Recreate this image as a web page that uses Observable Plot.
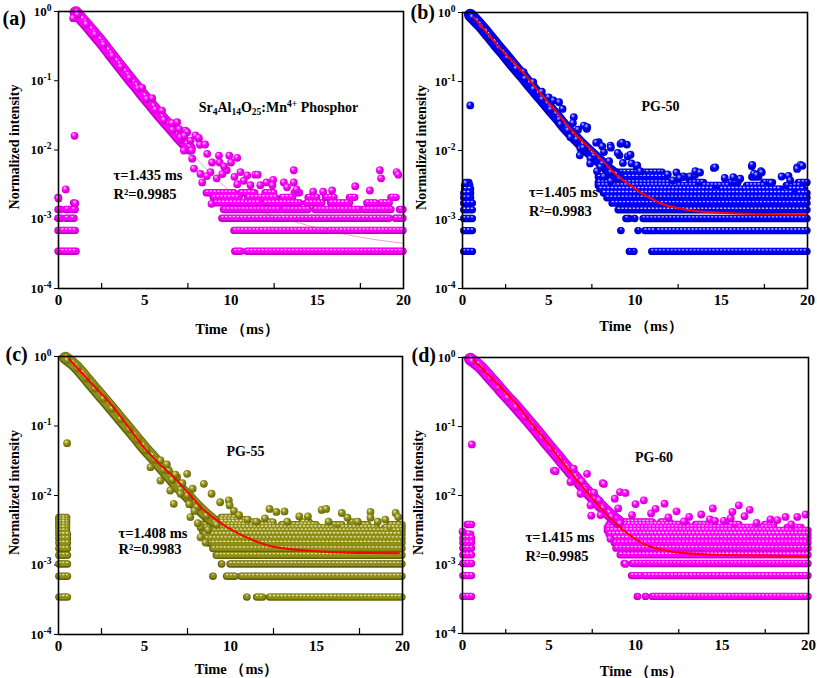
<!DOCTYPE html>
<html><head><meta charset="utf-8">
<script src="https://cdn.jsdelivr.net/npm/d3@7"></script>
<script src="https://cdn.jsdelivr.net/npm/@observablehq/plot@0.6"></script>
<style>
body{margin:0;background:#fff;}
#wrap{position:relative;width:817px;height:678px;overflow:hidden;background:#fff;}
.panel{position:absolute;}
</style></head><body><div id="wrap"></div>
<script>
// ---------- shared ----------
const COUNT_STEP = 0.000345;            // one photon count, normalized
const xTicks = [0, 5, 10, 15, 20];
const xMinorTicks = [2.5, 7.5, 12.5, 17.5];
const yTicks = [1e-4, 1e-3, 1e-2, 1e-1, 1];

// ---------- panel (a) Sr4Al14O25:Mn4+ ----------
const bandA = [[1.0,0.97],[1.5,0.70],[2.0,0.50],[2.5,0.355],[3.0,0.245],[3.5,0.17],[4.0,0.118],[4.5,0.083],[5.0,0.058],[5.5,0.041],[6.0,0.029],[6.5,0.021],[7.0,0.015],[7.6,0.0105]];
const scatterA = [[0.85,0.80],[0.93,0.016],[0.42,0.0027],[0.98,0.0017],[0.0,0.0020],
 [4.85,0.079],[5.43,0.056],[6.0,0.037],[6.59,0.0245],[7.36,0.019],[8.13,0.0145],[8.2,0.0119],[7.07,0.0153],
 [6.88,0.0252],[7.46,0.0181],[7.66,0.0137],[7.94,0.0162],[8.13,0.015],[7.27,0.0098],[7.75,0.0075],[7.85,0.0054],
 [8.62,0.0088],[9.3,0.0083],[9.9,0.0083],[10.0,0.0066],[9.34,0.0066],[8.81,0.0048],[8.33,0.0034],[8.23,0.0045],
 [9.17,0.0039],[9.75,0.0051],[10.55,0.0048],[10.94,0.0043],[11.4,0.0044],[11.55,0.0044],[10.74,0.0036],[10.36,0.0077],
 [13.64,0.0051],[12.06,0.0034],[12.44,0.0037],[13.06,0.0034],[13.64,0.0034],[14.76,0.0025],[15.34,0.0025],[15.86,0.0026],
 [17.2,0.0030],[18.05,0.0026],[18.63,0.0051],[18.7,0.0039],[19.6,0.0048],[19.7,0.0044],[8.87,0.00167],[10.36,0.0032],
 [11.13,0.0031],[11.7,0.0031],[12.4,0.0031],[13.25,0.0029],[13.8,0.0027],[7.0,0.0200],[7.3,0.0160],[8.5,0.0120],
 [8.9,0.0066],[9.6,0.0058],[8.6,0.0042],[9.5,0.0045],[10.2,0.0041]];
const rowsA = [
 [1,0.0,1.05],[1,10.25,10.6],[1,10.95,11.9],[1,12.05,20],
 [2,0.0,1.0],[2,10.2,15.5],[2,15.7,20],
 [3,0.0,0.2],[3,0.45,0.62],[3,0.78,0.93],[3,9.5,19.2],[3,19.55,20],
 [4,0.0,0.15],[4,0.45,0.65],[4,0.85,1.0],[4,9.6,12.9],[4,13.1,14.5],[4,14.9,17.5],[4,17.7,19.3],[4,19.8,20],
 [5,0.9,0.92],[5,9.1,11.7],[5,12.0,14.0],[5,14.4,15.3],[5,15.8,16.9],[5,17.9,18.4],[5,18.7,19.2],
 [6,0.0,0.02],[6,9.0,10.5],[6,11.0,12.6],[6,13.0,13.6],[6,14.5,15.0],[6,15.5,16.0],[6,16.9,17.2],[6,19.3,19.6],
 [7,8.6,10.2],[7,10.6,11.4],[7,12.0,12.5],[7,13.7,14.0]];
const fitA = [[1.0,0.95],[3,0.24],[5,0.06],[7,0.015],[8.5,0.0055],[10,0.0025],[11.5,0.0014],[13.5,0.00095],[15.6,0.00069],[17.5,0.00055],[20,0.00045]];

// ---------- panel (b) PG-50 ----------
const bandB = [[0.45,0.92],[1.0,0.66],[1.5,0.47],[2.0,0.33],[2.5,0.235],[3.0,0.165],[3.5,0.118],[4.0,0.083],[4.5,0.059],[5.0,0.042],[5.5,0.030],[6.0,0.021],[6.5,0.0155],[7.0,0.0115],[7.5,0.0088],[8.0,0.0068],[8.5,0.0052],[9.0,0.0042]];
const scatterB = [[0.45,0.045],[0.2,0.00336],
 [3.54,0.137],[4.1,0.098],[4.6,0.071],[5.0,0.059],[6.45,0.0304],[7.03,0.023],[7.9,0.0132],[8.58,0.0118],[8.2,0.0095],
 [5.68,0.024],[6.26,0.0156],[6.84,0.0106],[7.42,0.0076],[8.0,0.0058],
 [5.27,0.053],[5.6,0.05],[5.8,0.04],[6.4,0.025],[6.7,0.02],[7.2,0.0206],[7.23,0.0218],[7.75,0.013],[8.1,0.0115],[8.6,0.011],
 [9.1,0.0085],[9.53,0.0122],[9.16,0.0125],[9.26,0.013],[9.58,0.0082],[9.74,0.0087],[9.0,0.0092],[8.5,0.007],[9.3,0.0066],
 [9.8,0.0065],[10.1,0.0058],[10.13,0.0061],[10.3,0.005],[6.8,0.0085],[7.4,0.0065],[7.8,0.005],[8.2,0.0042],[8.6,0.0036],[7.0,0.011],
 [11.9,0.0045],[12.4,0.0048],[12.8,0.0042],[13.2,0.0042],[12.2,0.0037],[12.6,0.004],[13.48,0.0044],[13.5,0.005],[13.77,0.0048],
 [14.57,0.0056],[14.65,0.0057],[15.2,0.004],[15.7,0.0041],[16.1,0.0039],[16.77,0.0059],[16.8,0.0062],[16.9,0.0046],[17.06,0.0044],
 [17.3,0.005],[17.35,0.0048],[17.9,0.0034],[18.5,0.0042],[18.9,0.0043],[19.0,0.0037],[19.4,0.0057],[19.6,0.0062],[19.7,0.006],[19.4,0.0054]];
const rowsB = [
 [1,0.1,0.6],[1,9.7,9.72],[1,9.95,9.97],[1,11.0,11.8],[1,11.9,20],
 [2,0.1,0.6],[2,9.2,9.22],[2,10.2,10.22],[2,10.6,11.2],[2,11.35,20],
 [3,0.1,0.6],[3,9.5,9.7],[3,10.0,10.02],[3,10.5,20],
 [4,0.1,0.6],[4,9.05,20],
 [5,0.1,0.6],[5,8.7,20],
 [6,0.1,0.5],[6,8.4,20],
 [7,0.1,0.5],[7,8.2,19.2],[7,19.5,20],
 [8,0.15,0.5],[8,8.0,14.5],[8,15.0,18.5],[8,19.0,19.8],
 [9,0.15,0.45],[9,7.9,13.5],[9,14.0,15.5],[9,16.5,17.5],[9,18.8,19.6],
 [10,0.2,0.4],[10,7.9,12.5],[10,13.2,14.0],[10,15.3,16.0],[10,17.5,18.0],[10,19.5,20],
 [12,7.9,11.8],[12,12.6,13.0],[12,16.8,17.2],
 [14,8.5,11.6]];
const fitB = [[0.64,0.855],[1.5,0.48],[2.3,0.28],[3.25,0.16],[4.3,0.078],[5.37,0.038],[6.3,0.02],[7.3,0.0112],[8.1,0.0072],[8.85,0.0046],[10,0.0028],[11.55,0.00169],[13.3,0.00135],[15.2,0.00124],[17.5,0.0012],[19.96,0.00118]];

// ---------- panel (c) PG-55 ----------
const bandC = [[0.4,0.95],[1.0,0.72],[1.5,0.52],[2.0,0.37],[2.5,0.265],[3.0,0.19],[3.5,0.135],[4.0,0.096],[4.5,0.068],[5.0,0.048],[5.5,0.035],[6.0,0.025],[6.5,0.018],[7.0,0.013],[7.5,0.0098],[8.0,0.0072],[8.5,0.0055],[9.0,0.0043]];
const scatterC = [[0.5,0.0566],
 [5.93,0.0319],[6.42,0.0229],[6.9,0.0183],[5.35,0.0256],[5.93,0.0164],[6.5,0.0118],[6.7,0.0076],
 [6.3,0.028],[6.8,0.02],[7.2,0.015],[7.48,0.0205],[7.5,0.01],[7.8,0.0125],[8.45,0.0147],[8.9,0.0106],[7.1,0.0106],[8.06,0.0068],
 [7.67,0.0049],[8.26,0.0035],[9.4,0.008],[9.9,0.0085],[9.95,0.0072],[8.26,0.0025],[8.55,0.0021],[7.9,0.006],[7.6,0.0075],[8.1,0.004],
 [8.7,0.0032],[9.2,0.0038],[10.2,0.006],[10.5,0.0052],[11.0,0.0045],[11.5,0.0042],[12.0,0.0047],
 [12.27,0.0064],[12.67,0.0058],[13.14,0.0059],[13.3,0.0042],[14.0,0.005],[14.5,0.005],[15.3,0.0062],[15.56,0.0064],[15.7,0.0042],
 [16.47,0.0056],[16.8,0.0048],[17.4,0.0042],[18.14,0.0058],[18.14,0.0048],[18.56,0.0042],[19.0,0.0045],[19.6,0.0056],[19.75,0.0049]];
const rowsC = [
 [1,0.05,0.55],[1,10.97,10.99],[1,11.55,11.9],[1,12.3,20],
 [2,0.05,0.55],[2,9.0,9.02],[2,9.8,10.3],[2,10.65,11.45],[2,11.55,20],
 [3,0.05,0.55],[3,9.5,9.52],[3,10.0,20],
 [4,0.05,0.55],[4,9.2,20],
 [5,0.05,0.55],[5,9.0,20],
 [6,0.05,0.55],[6,8.75,20],
 [7,0.05,0.55],[7,8.6,20],
 [8,0.05,0.55],[8,8.5,20],
 [9,0.05,0.5],[9,8.4,19.2],[9,19.5,20],
 [10,0.05,0.5],[10,8.3,16.0],[10,16.5,18.5],[10,19.0,20],
 [11,0.05,0.5],[11,8.3,12.5],[11,13.0,15.0],[11,15.8,16.5],[11,17.5,18.0],[11,19.3,20],
 [12,0.05,0.5],[12,8.6,11.6],[12,12.2,12.5],[12,14.2,14.6],[12,17.0,17.3],
 [13,0.05,0.5],[13,9.0,11.0],
 [14,0.05,0.5],[14,9.5,10.5]];
const fitC = [[0.6,0.93],[1.8,0.44],[3.02,0.21],[4.0,0.102],[4.96,0.0496],[5.9,0.028],[6.9,0.0164],[7.6,0.0105],[8.26,0.0068],[9.0,0.0048],[9.8,0.0035],[10.5,0.0028],[11.35,0.00225],[12.3,0.00188],[13.3,0.00171],[14.6,0.0016],[16,0.00153],[18,0.00149],[19.8,0.00148]];

// ---------- panel (d) PG-60 ----------
const bandD = [[0.45,0.95],[1.0,0.74],[1.5,0.54],[2.0,0.39],[2.5,0.28],[3.0,0.205],[3.5,0.147],[4.0,0.105],[4.5,0.074],[5.0,0.052],[5.5,0.037],[6.0,0.026],[6.5,0.0185],[7.0,0.013],[7.5,0.0095],[8.0,0.007],[8.5,0.0053],[9.0,0.0042]];
const scatterD = [[0.54,0.055],[0.0,0.003],
 [5.66,0.034],[6.43,0.0244],[7.2,0.0206],[8.1,0.0151],[9.1,0.0112],[5.28,0.023],[6.24,0.0157],[6.82,0.0106],[7.4,0.0072],[7.98,0.0052],
 [5.38,0.0225],[6.9,0.016],[7.44,0.0051],[7.6,0.011],[7.9,0.0085],[8.17,0.0147],[8.55,0.00236],[8.8,0.009],[9.0,0.0065],[9.42,0.0109],
 [9.42,0.00102],[9.8,0.0052],[10.0,0.0075],[10.48,0.0085],[10.9,0.0055],[11.16,0.0064],[11.68,0.0076],[11.9,0.0048],[12.37,0.0059],
 [12.8,0.0042],[13.1,0.0049],[13.8,0.0053],[14.3,0.0045],[14.47,0.0065],[14.6,0.0043],[15.1,0.0043],[15.5,0.0047],[15.6,0.0058],
 [15.97,0.0072],[16.3,0.005],[16.6,0.0062],[17.0,0.004],[17.8,0.0045],[18.2,0.0044],[18.67,0.0049],[19.0,0.0038],[19.35,0.0049],[19.83,0.0053]];
const rowsD = [
 [1,0.05,0.55],[1,10.13,10.15],[1,10.6,10.62],[1,11.0,20],
 [2,0.05,0.55],[2,9.8,10.3],[2,10.55,20],
 [3,0.05,0.55],[3,9.37,9.39],[3,9.84,20],
 [4,0.05,0.55],[4,9.14,20],
 [5,0.05,0.55],[5,8.9,20],
 [6,0.05,0.55],[6,8.8,20],
 [7,0.05,0.55],[7,8.6,20],
 [8,0.1,0.5],[8,8.5,20],
 [9,8.4,19.0],[9,19.3,20],
 [10,8.4,15.5],[10,16.0,18.0],[10,18.8,19.6],
 [11,0.3,0.55],[11,8.5,13.0],[11,13.5,14.5],[11,15.5,16.0],[11,17.5,18.0],
 [12,8.7,11.0],[12,11.5,12.0]];
const fitD = [[0.64,0.92],[1.8,0.47],[3.03,0.223],[4.0,0.11],[5.0,0.055],[5.66,0.033],[6.43,0.019],[7.4,0.0098],[8.36,0.0052],[9.32,0.0031],[10.29,0.0021],[11.2,0.00172],[12.2,0.00152],[14.1,0.0014],[17,0.00135],[19.9,0.00132]];

// ---------- texts ----------
const panelLetters = ["(a)", "(b)", "(c)", "(d)"];
const tauTexts = ["τ=1.435 ms", "τ=1.405 ms", "τ=1.408 ms", "τ=1.415 ms"];
const r2Texts = ["R²=0.9985", "R²=0.9983", "R²=0.9983", "R²=0.9985"];
const sampleNames = ["Sr4Al14O25:Mn4+ Phosphor", "PG-50", "PG-55", "PG-60"];
const xLabel = "Time （ms）";
const yLabel = "Normalized intensity";

const MAG = {color:"#ff00ff", dark:"#c000c0", hi:"#ffd0ff"};
const BLU = {color:"#0000ff", dark:"#0000b0", hi:"#c8c8ff"};
const OLV = {color:"#8f8f18", dark:"#62620a", hi:"#e8e8a8"};

const panels = [
 {key:"a", left:0, top:0, W:408, H:340, mL:58, mT:11, mR:5, mB:52, band:bandA, scatter:scatterA, rows:rowsA, fit:fitA, fitFaint:true, pal:MAG,
  letter:{dx:-56, dy:13}, xlabDy:41, ylabDx:-44, tx:3.19, ty1:0.0043, ty2:0.0023, nx:12.75, ny:0.041},
 {key:"b", left:408, top:0, W:409, H:340, mL:54, mT:12, mR:10, mB:52, band:bandB, scatter:scatterB, rows:rowsB, fit:fitB, pal:BLU,
  letter:{dx:-52, dy:6}, xlabDy:38, ylabDx:-41, tx:3.85, ty1:0.00246, ty2:0.00131, nx:11.48, ny:0.0436},
 {key:"c", left:0, top:340, W:408, H:338, mL:58, mT:16, mR:6, mB:44, band:bandC, scatter:scatterC, rows:rowsC, fit:fitC, pal:OLV,
  letter:{dx:-53, dy:4}, xlabDy:35, ylabDx:-44, tx:3.49, ty1:0.00284, ty2:0.00167, nx:10.87, ny:0.043},
 {key:"d", left:408, top:340, W:409, H:338, mL:54, mT:17, mR:9, mB:45, band:bandD, scatter:scatterD, rows:rowsD, fit:fitD, pal:MAG,
  letter:{dx:-51, dy:4}, xlabDy:38, ylabDx:-44, tx:3.64, ty1:0.00246, ty2:0.00131, nx:11.07, ny:0.035}
];

const SVGNS = "http://www.w3.org/2000/svg";
function richText(t, parts){
  t.textContent = "";
  let off = 0;
  for (const [s, kind] of parts){
    const sp = document.createElementNS(SVGNS, "tspan");
    let target = kind === "sub" ? 3 : kind === "sup" ? -5 : 0;
    if (target - off !== 0) sp.setAttribute("dy", target - off);
    off = target;
    if (kind) sp.setAttribute("font-size", "9.5");
    sp.textContent = s;
    t.appendChild(sp);
  }
}

panels.forEach((p, i) => {
  const pal = p.pal;
  const rows = p.rows.map(([n, x1, x2]) => ({y: n * COUNT_STEP, x1, x2: Math.max(x2, x1 + 0.02)}));
  const band = p.band.map(([x, y]) => ({x, y}));
  const pts = p.scatter.map(([x, y]) => ({x, y}));
  const fit = p.fit.map(([x, y]) => ({x, y}));
  const gid = "grad" + p.key;
  const rowOpt = {y: "y", x1: "x1", x2: "x2", strokeLinecap: "round"};
  const bandOpt = {x: "x", y: "y", curve: "monotone-x", strokeLinecap: "round", strokeLinejoin: "round"};
  const marks = [
    p.fitFaint ? Plot.line(fit, {x: "x", y: "y", stroke: "#f0a0d0", strokeWidth: 1, curve: "monotone-x"}) : null,
    Plot.ruleY(rows, {...rowOpt, stroke: pal.dark, strokeWidth: 7.4}),
    Plot.ruleY(rows, {...rowOpt, stroke: pal.color, strokeWidth: 5.4, dy: -0.6}),
    Plot.ruleY(rows, {...rowOpt, stroke: pal.hi, strokeWidth: 1.3, strokeDasharray: "1.2 2.6", dy: -1.6}),
    Plot.line(band, {...bandOpt, stroke: pal.dark, strokeWidth: 12.5}),
    Plot.line(band, {...bandOpt, stroke: pal.color, strokeWidth: 10, dy: -0.6}),
    Plot.line(band, {...bandOpt, stroke: pal.hi, strokeWidth: 1.4, strokeDasharray: "1.5 3", dy: -2.5}),
    Plot.dot(band, {x: "x", y: "y", r: 3.9, fill: `url(#${gid})`, dx: 2, dy: 2}),
    Plot.dot(pts, {x: "x", y: "y", r: 3.9, fill: `url(#${gid})`}),
    p.fitFaint ? null : Plot.line(fit, {x: "x", y: "y", stroke: "#ff0000", strokeWidth: 2, curve: "monotone-x"}),
    Plot.ruleX(xMinorTicks, {x: d => d, stroke: "black", strokeWidth: 1.2, insetTop: 272}),
    Plot.frame({stroke: "black", strokeWidth: 1.6}),
    Plot.text([panelLetters[i]], {text: d => d, frameAnchor: "top-left", textAnchor: "start", lineAnchor: "bottom", dx: p.letter.dx, dy: p.letter.dy, fontSize: 20, fontWeight: "bold", fill: "black"}),
    Plot.text([yLabel], {text: d => d, frameAnchor: "left", textAnchor: "middle", lineAnchor: "middle", rotate: -90, dx: p.ylabDx, dy: -3, fontSize: 14, fontWeight: "bold", fill: "black"}),
    Plot.text([xLabel], {text: d => d, frameAnchor: "bottom", textAnchor: "middle", lineAnchor: "middle", dy: p.xlabDy, dx: 6, fontSize: 14.5, fontWeight: "bold", fill: "black"}),
    Plot.text([tauTexts[i]], {text: d => d, x: () => p.tx, y: () => p.ty1, textAnchor: "start", fontSize: 14.5, fontWeight: "bold", fill: "black"}),
    Plot.text([r2Texts[i]], {text: d => d, x: () => p.tx, y: () => p.ty2, textAnchor: "start", fontSize: 14.5, fontWeight: "bold", fill: "black"}),
    Plot.text([sampleNames[i]], {text: d => d, x: () => p.nx, y: () => p.ny, textAnchor: "middle", fontSize: 14, fontWeight: "bold", fill: "black"})
  ].filter(Boolean);

  const svg = Plot.plot({
    width: p.W, height: p.H,
    marginLeft: p.mL, marginTop: p.mT, marginRight: p.mR, marginBottom: p.mB,
    style: {fontFamily: "'Liberation Serif', 'Times New Roman', serif", fontWeight: "bold", fontSize: "15px", color: "black", background: "transparent", overflow: "visible"},
    x: {domain: [0, 20], ticks: xTicks, tickSize: 0, tickPadding: 6, label: null},
    y: {type: "log", domain: [1e-4, 1], ticks: yTicks, tickSize: 4, tickPadding: 3, label: null,
        tickFormat: d => "10^" + Math.round(Math.log10(d))},
    marks
  });

  // sphere-like gradient for the data dots
  const defs = d3.select(svg).insert("defs", ":first-child");
  const g = defs.append("radialGradient").attr("id", gid)
    .attr("cx", "45%").attr("cy", "42%").attr("r", "62%").attr("fx", "35%").attr("fy", "30%");
  g.append("stop").attr("offset", "0%").attr("stop-color", pal.hi);
  g.append("stop").attr("offset", "45%").attr("stop-color", pal.color);
  g.append("stop").attr("offset", "100%").attr("stop-color", pal.dark);

  // superscripted decade labels
  svg.querySelectorAll('g[aria-label="y-axis tick label"] text, g[aria-label="y-axis"] .tick text').forEach(t => {
    const m = t.textContent.match(/^10\^(-?\d+)$/);
    if (!m) return;
    t.setAttribute("font-size", "13");
    richText(t, [["10", null], [m[1], "sup"]]);
  });
  // chemical formula with sub/superscripts
  svg.querySelectorAll("text").forEach(t => {
    if (t.textContent === "Sr4Al14O25:Mn4+ Phosphor") {
      richText(t, [["Sr", null], ["4", "sub"], ["Al", null], ["14", "sub"], ["O", null], ["25", "sub"], [":Mn", null], ["4+", "sup"], [" Phosphor", null]]);
    }
  });

  const div = document.createElement("div");
  div.className = "panel";
  div.style.left = p.left + "px";
  div.style.top = p.top + "px";
  div.appendChild(svg);
  document.getElementById("wrap").appendChild(div);
});
</script>
</body></html>
